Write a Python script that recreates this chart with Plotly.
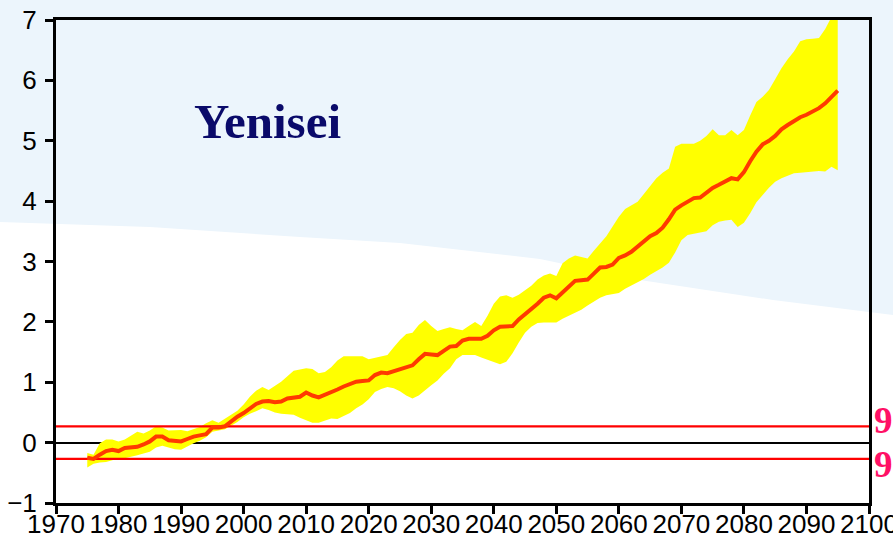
import plotly.graph_objects as go

years = list(range(1975, 2096))

mean = [-0.25, -0.27, -0.20, -0.14, -0.12, -0.14, -0.09, -0.08, -0.07, -0.03,
        0.02, 0.10, 0.10, 0.04, 0.03, 0.02, 0.06, 0.10, 0.12, 0.14,
        0.25, 0.25, 0.27, 0.36, 0.43, 0.49, 0.56, 0.64, 0.68, 0.69,
        0.67, 0.68, 0.73, 0.75, 0.76, 0.83, 0.78, 0.75, 0.79, 0.84,
        0.88, 0.93, 0.97, 1.01, 1.02, 1.03, 1.12, 1.16, 1.15, 1.18,
        1.22, 1.24, 1.28, 1.38, 1.47, 1.46, 1.45, 1.52, 1.59, 1.60,
        1.69, 1.72, 1.72, 1.72, 1.77, 1.86, 1.92, 1.93, 1.93, 2.04,
        2.12, 2.20, 2.30, 2.40, 2.44, 2.39, 2.48, 2.58, 2.68, 2.69,
        2.70, 2.80, 2.90, 2.91, 2.95, 3.06, 3.10, 3.16, 3.25, 3.35,
        3.42, 3.47, 3.56, 3.70, 3.86, 3.93, 4.00, 4.05, 4.06, 4.14,
        4.22, 4.27, 4.32, 4.38, 4.36, 4.48, 4.66, 4.82, 4.94, 5.00,
        5.08, 5.19, 5.26, 5.32, 5.39, 5.43, 5.48, 5.54, 5.62, 5.73,
        5.83]

upper = [-0.17, -0.20, -0.01, 0.05, 0.05, 0.02, 0.05, 0.12, 0.18, 0.15,
         0.20, 0.27, 0.25, 0.20, 0.21, 0.21, 0.19, 0.22, 0.26, 0.32,
         0.37, 0.33, 0.40, 0.46, 0.53, 0.63, 0.76, 0.86, 0.92, 0.87,
         0.94, 1.01, 1.10, 1.19, 1.21, 1.23, 1.22, 1.15, 1.17, 1.25,
         1.36, 1.43, 1.43, 1.43, 1.43, 1.38, 1.40, 1.42, 1.45, 1.58,
         1.70, 1.80, 1.82, 1.95, 2.03, 1.93, 1.85, 1.88, 1.91, 1.88,
         1.86, 1.93, 2.00, 1.93, 2.10, 2.30, 2.42, 2.44, 2.40, 2.45,
         2.53, 2.60, 2.70, 2.77, 2.80, 2.76, 2.97, 3.05, 3.10, 3.07,
         3.05, 3.18, 3.30, 3.42, 3.58, 3.74, 3.87, 3.93, 3.99, 4.12,
         4.25, 4.38, 4.47, 4.54, 4.90, 4.95, 4.95, 4.95, 5.00, 5.08,
         5.19, 5.09, 5.09, 5.18, 5.09, 5.18, 5.42, 5.64, 5.73, 5.84,
         6.02, 6.20, 6.35, 6.48, 6.65, 6.68, 6.69, 6.70, 6.85, 7.05,
         7.10]

lower = [-0.41, -0.35, -0.33, -0.32, -0.29, -0.26, -0.26, -0.24, -0.21, -0.18,
         -0.15, -0.08, -0.05, -0.08, -0.11, -0.12, -0.06, -0.01, 0.03, 0.09,
         0.18, 0.20, 0.22, 0.28, 0.34, 0.42, 0.48, 0.52, 0.57, 0.54,
         0.50, 0.48, 0.47, 0.46, 0.41, 0.37, 0.33, 0.33, 0.36, 0.40,
         0.39, 0.44, 0.49, 0.57, 0.63, 0.72, 0.84, 0.89, 0.92, 0.90,
         0.85, 0.78, 0.73, 0.78, 0.87, 0.95, 1.03, 1.14, 1.23, 1.38,
         1.45, 1.45, 1.45, 1.41, 1.37, 1.33, 1.30, 1.34, 1.48, 1.66,
         1.82, 1.92, 1.98, 1.99, 1.99, 1.99, 2.05, 2.10, 2.15, 2.20,
         2.27, 2.34, 2.40, 2.44, 2.46, 2.48, 2.55, 2.60, 2.66, 2.71,
         2.78, 2.84, 2.90, 2.98, 3.15, 3.35, 3.44, 3.46, 3.48, 3.50,
         3.60, 3.66, 3.68, 3.69, 3.57, 3.64, 3.80, 3.98, 4.10, 4.22,
         4.32, 4.38, 4.42, 4.46, 4.47, 4.48, 4.50, 4.50, 4.49, 4.57,
         4.51]

threshold_years = [1970, 2100]
threshold_hi = 0.27
threshold_lo = -0.27
x_ticks = list(range(1970, 2101, 10))
y_ticks = list(range(-1, 8))
title_text = "Yenisei"
level_label = "9"

W, H = 893, 541
L, R, T, B = 56, 24, 20, 38
pw, ph = W - L - R, H - T - B


def px(x):
    return (x - L) / pw


def py(y):
    return (H - B - y) / ph


curve = [(0, 222), (150, 227), (300, 237), (400, 243), (540, 259),
         (640, 280), (773, 300), (893, 315)]
path = "M {:.4f},{:.4f} ".format(px(curve[0][0]), py(curve[0][1]))
for cx, cy in curve[1:]:
    path += "L {:.4f},{:.4f} ".format(px(cx), py(cy))
path += "L {:.4f},{:.4f} L {:.4f},{:.4f} Z".format(px(W), py(H + 5), px(0), py(H + 5))

fig = go.Figure()
fig.add_trace(go.Scatter(x=years, y=lower, mode="lines", line=dict(width=0, color="#FFFF00"),
                         hoverinfo="skip", showlegend=False))
fig.add_trace(go.Scatter(x=years, y=upper, mode="lines", line=dict(width=0, color="#FFFF00"),
                         fill="tonexty", fillcolor="#FFFF00", showlegend=False))
fig.add_trace(go.Scatter(x=threshold_years, y=[threshold_hi] * 2, mode="lines",
                         line=dict(color="#FF0000", width=2.2), showlegend=False))
fig.add_trace(go.Scatter(x=threshold_years, y=[threshold_lo] * 2, mode="lines",
                         line=dict(color="#FF0000", width=2.2), showlegend=False))
fig.add_trace(go.Scatter(x=years, y=mean, mode="lines",
                         line=dict(color="#FF3A00", width=4), showlegend=False))

fig.add_shape(type="path", path=path, xref="paper", yref="paper",
              fillcolor="#FFFFFF", line=dict(width=0), layer="below")

fig.add_annotation(text="<b>" + title_text + "</b>", x=px(267), y=py(122),
                   xref="paper", yref="paper", xanchor="center", yanchor="middle",
                   showarrow=False,
                   font=dict(family="Liberation Serif", size=49, color="#0A0A6A"))
for yv, sh in [(threshold_hi, 6), (threshold_lo, -6)]:
    fig.add_annotation(text="<b>" + level_label + "</b>", x=px(872), y=yv, yshift=sh,
                       xref="paper", yref="y", xanchor="left", yanchor="middle",
                       showarrow=False,
                       font=dict(family="Liberation Serif", size=37, color="#FF1166"))

axis_common = dict(showline=True, linecolor="black", linewidth=3, mirror=True,
                   ticks="outside", ticklen=8, tickwidth=3, tickcolor="black",
                   showgrid=False, automargin=False, tickangle=0,
                   tickfont=dict(family="Liberation Sans", size=26, color="black"))

fig.update_xaxes(range=[1970, 2100], tickvals=x_ticks, zeroline=False,
                 ticklabelstandoff=-12, ticklabeloverflow="allow", **axis_common)
fig.update_yaxes(range=[-1, 7], tickvals=y_ticks, zeroline=True, zerolinecolor="black",
                 zerolinewidth=2, ticklabelstandoff=3, **axis_common)

fig.update_layout(width=W, height=H, margin=dict(l=L, r=R, t=T, b=B, autoexpand=False),
                  paper_bgcolor="#ECF5FC", plot_bgcolor="rgba(0,0,0,0)",
                  showlegend=False)

fig.write_html("out.html", config={"displayModeBar": False},
               post_script="document.body.style.margin='0';document.body.style.overflow='hidden';")
